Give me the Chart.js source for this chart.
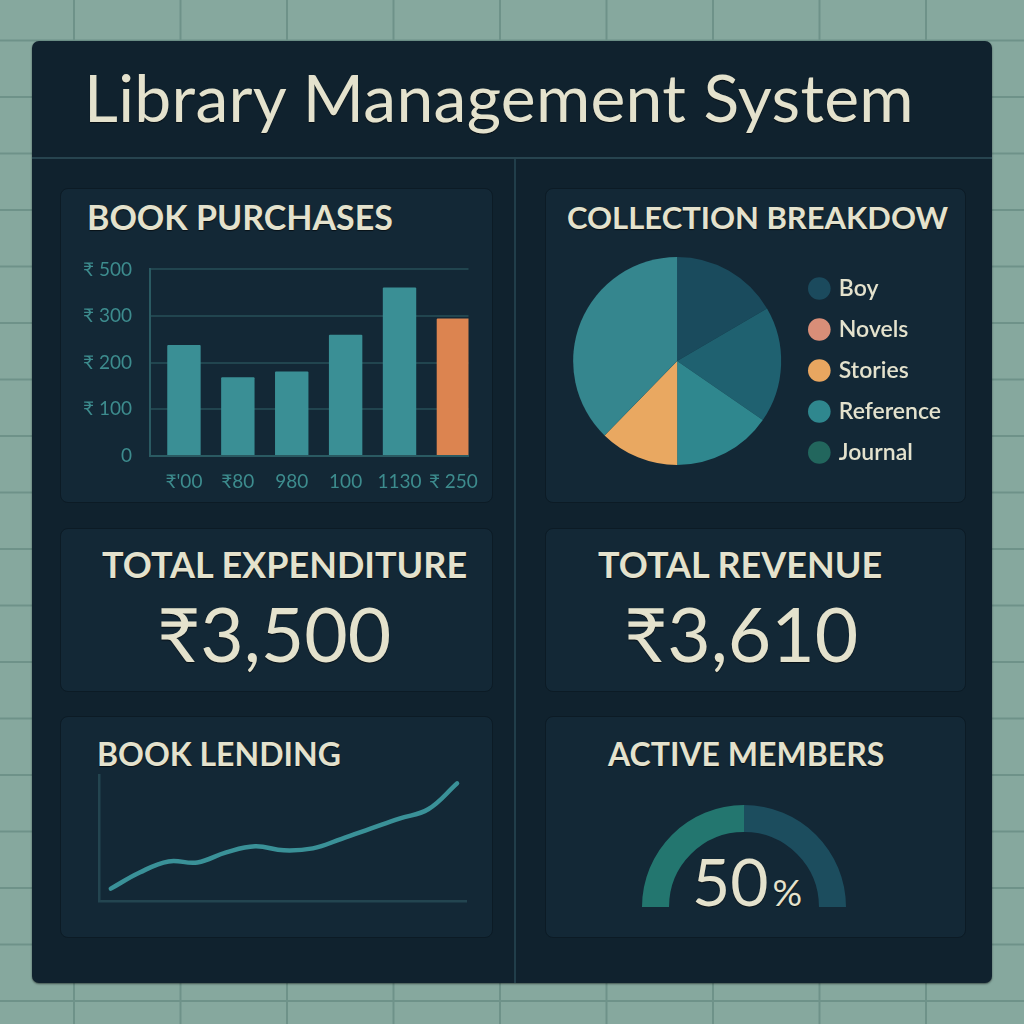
<!DOCTYPE html>
<html>
<head>
<meta charset="utf-8">
<title>Library Management System</title>
<script src="https://cdn.jsdelivr.net/npm/chart.js@4.4.1/dist/chart.umd.min.js"></script>
<style>
    html, body {
        margin: 0;
        padding: 0;
        width: 1024px;
        height: 1024px;
        overflow: hidden;
    }
    body {
        position: relative;
        background-color: #86a89e;
        background-image:
            linear-gradient(to right, #6e9289 1.5px, transparent 1.5px),
            linear-gradient(to bottom, #6e9289 1.5px, transparent 1.5px);
        background-size: 106.5px 100%, 100% 56.5px;
        background-position: 73px 0, 0 39.5px;
        font-family: Lato, "Noto Sans", sans-serif;
    }
    .panel {
        position: absolute;
        left: 32px;
        top: 41px;
        width: 960px;
        height: 942px;
        background: #10222e;
        border-radius: 7px;
        box-shadow: 0 1px 2px rgba(0, 0, 0, 0.5);
    }
    .header-line {
        position: absolute;
        left: 32px;
        top: 157px;
        width: 960px;
        height: 2px;
        background: #27444f;
    }
    .split-line {
        position: absolute;
        left: 514px;
        top: 159px;
        width: 1.5px;
        height: 824px;
        background: #213e4a;
    }
    .card {
        position: absolute;
        background: #132836;
        border: 1px solid #0c1b25;
        border-radius: 8px;
        box-sizing: border-box;
    }
    .txt {
        position: absolute;
        line-height: 1;
        color: #e4e2cd;
        white-space: nowrap;
        text-shadow: 0 1px 1px rgba(0, 0, 0, 0.6);
    }
    .title {
        font-size: 66px;
        font-weight: 400;
        letter-spacing: 0.3px;
    }
    .card-title {
        font-size: 32px;
        font-weight: 700;
    }
    .big-title {
        font-size: 36px;
        font-weight: 700;
    }
    .amount {
        font-size: 75px;
        font-weight: 400;
    }
    canvas {
        position: absolute;
    }
</style>
</head>
<body>
<div class="panel"></div>
<div class="header-line"></div>
<div class="split-line"></div>

<div class="card" style="left:60px;top:188px;width:433px;height:315px;"></div>
<div class="card" style="left:545px;top:188px;width:421px;height:315px;"></div>
<div class="card" style="left:60px;top:528px;width:433px;height:164px;"></div>
<div class="card" style="left:545px;top:528px;width:421px;height:164px;"></div>
<div class="card" style="left:60px;top:716px;width:433px;height:222px;"></div>
<div class="card" style="left:545px;top:716px;width:421px;height:222px;"></div>

<div class="txt title" style="left:84px;top:64px;">Library Management System</div>
<div class="txt card-title" style="left:87px;top:200px;font-size:34px;">BOOK PURCHASES</div>
<div class="txt card-title" style="left:567px;top:202px;font-size:31px;">COLLECTION BREAKDOW</div>
<div class="txt big-title" style="left:102px;top:546px;">TOTAL EXPENDITURE</div>
<div class="txt big-title" style="left:598px;top:546px;">TOTAL REVENUE</div>
<div class="txt amount" id="expenditure" style="left:157px;top:596px;"></div>
<div class="txt amount" id="revenue" style="left:624px;top:596px;"></div>
<div class="txt card-title" style="left:97px;top:738px;">BOOK LENDING</div>
<div class="txt card-title" style="left:608px;top:738px;">ACTIVE MEMBERS</div>
<div class="txt" id="membersPct" style="left:692px;top:848px;"></div>

<canvas id="purchasesChart" style="left:60px;top:240px;" width="433" height="260"></canvas>
<canvas id="collectionChart" style="left:561px;top:240px;" width="390" height="242"></canvas>
<canvas id="lendingChart" style="left:60px;top:765px;" width="433" height="150"></canvas>
<canvas id="membersChart" style="left:642px;top:805px;" width="204" height="102"></canvas>

<script>
// Дані графіків
const purchaseLabels = ['₹\'00', '₹80', '980', '100', '1130', '₹ 250'];
const purchaseValues = [238, 169, 181, 260, 361, 295];
const purchaseTicks = ['0', '₹ 100', '₹ 200', '₹ 300', '₹ 500'];

const collectionSlices = ['Boy', 'Journal', 'Novels', 'Stories', 'Reference'];
const collectionShares = [16.6, 18.0, 15.4, 12.3, 37.7];
const collectionLegend = ['Boy', 'Novels', 'Stories', 'Reference', 'Journal'];

const lendingWeeks = ['W1', 'W2', 'W3', 'W4', 'W5', 'W6', 'W7', 'W8', 'W9', 'W10', 'W11', 'W12', 'W13'];
const lendingValues = [9.8, 22.6, 31.4, 30.6, 38.6, 43.4, 40.2, 41.8, 49.4, 57.4, 65.4, 72.8, 93.4];

const memberLabels = ['Active', 'Inactive'];
const memberValues = [50, 50];

const totalExpenditure = 3500;
const totalRevenue = 3610;

const tickColor = '#3d8c8e';
const gridColor = '#21454f';
const textFont = 'Lato, "Noto Sans", sans-serif';

// Підсумкові значення
function renderTotals() {
    document.getElementById('expenditure').textContent = '₹' + totalExpenditure.toLocaleString('en-IN');
    document.getElementById('revenue').textContent = '₹' + totalRevenue.toLocaleString('en-IN');
    const pct = Math.round(memberValues[0] / (memberValues[0] + memberValues[1]) * 100);
    document.getElementById('membersPct').innerHTML =
        '<span style="font-size:66px;font-weight:400">' + pct + '</span>' +
        '<span style="font-size:37px;font-weight:400;margin-left:4px">%</span>';
}

// Стовпчики закупівель
function renderPurchasesChart() {
    const ctx = document.getElementById('purchasesChart');
    new Chart(ctx, {
        type: 'bar',
        data: {
            datasets: [{
                data: purchaseValues.map((v, i) => ({ x: i, y: v })),
                backgroundColor: purchaseValues.map((v, i) => i === purchaseValues.length - 1 ? '#dc8450' : '#3a8f95'),
                borderWidth: 0,
                borderRadius: 1,
                barPercentage: 0.62,
                categoryPercentage: 1
            }]
        },
        options: {
            responsive: false,
            animation: false,
            layout: { padding: { top: 26, right: 24, left: 0, bottom: 0 } },
            plugins: { legend: { display: false }, tooltip: { enabled: false } },
            scales: {
                x: {
                    type: 'linear',
                    offset: false,
                    min: -0.63,
                    max: 5.28,
                    afterBuildTicks: scale => {
                        scale.ticks = purchaseLabels.map((l, i) => ({ value: i }));
                    },
                    afterFit: scale => { scale.height = 44; },
                    ticks: {
                        color: tickColor,
                        font: { family: textFont, size: 19 },
                        padding: 14,
                        autoSkip: false,
                        maxRotation: 0,
                        callback: value => purchaseLabels[value]
                    },
                    grid: { display: false, drawTicks: false },
                    border: { color: '#2a5a62', width: 2 }
                },
                y: {
                    min: 0,
                    max: 400,
                    ticks: {
                        stepSize: 100,
                        color: tickColor,
                        font: { family: textFont, size: 19 },
                        padding: 18,
                        callback: value => purchaseTicks[value / 100]
                    },
                    afterFit: scale => { scale.width = 90; },
                    grid: { color: gridColor, lineWidth: 2, drawTicks: false },
                    border: { color: '#2a5a62', width: 2 }
                }
            }
        }
    });
}

// Кругова діаграма колекції
function renderCollectionChart() {
    const ctx = document.getElementById('collectionChart');
    const sliceColors = ['#1a4b5d', '#1f6170', '#2f878e', '#e9a861', '#35868e'];
    const legendColors = ['#1b4a5d', '#d98e78', '#e8a660', '#2f878e', '#22665d'];
    new Chart(ctx, {
        type: 'pie',
        data: {
            labels: collectionSlices,
            datasets: [{
                data: collectionShares,
                backgroundColor: sliceColors,
                borderWidth: 0,
                radius: 104
            }]
        },
        options: {
            responsive: false,
            animation: false,
            layout: { padding: 0 },
            plugins: {
                tooltip: { enabled: false },
                legend: {
                    position: 'right',
                    align: 'end',
                    labels: {
                        color: '#e4e2cd',
                        font: { family: textFont, size: 23, weight: '600' },
                        usePointStyle: true,
                        pointStyle: 'circle',
                        boxWidth: 16,
                        boxHeight: 16,
                        padding: 18,
                        generateLabels: () => collectionLegend.map((name, i) => ({
                            text: name,
                            fillStyle: legendColors[i],
                            strokeStyle: legendColors[i],
                            fontColor: '#e4e2cd',
                            lineWidth: 0,
                            pointStyle: 'circle',
                            hidden: false,
                            index: i
                        }))
                    }
                }
            }
        }
    });
}

// Лінія видачі книг
function renderLendingChart() {
    const ctx = document.getElementById('lendingChart');
    new Chart(ctx, {
        type: 'line',
        data: {
            datasets: [{
                label: 'Видача',
                data: lendingValues.map((v, i) => ({ x: i, y: v })),
                borderColor: '#3a9198',
                borderWidth: 4.5,
                borderCapStyle: 'round',
                pointRadius: 0,
                tension: 0.4,
                fill: false
            }]
        },
        options: {
            responsive: false,
            animation: false,
            layout: { padding: { left: 31, top: 10, right: 27, bottom: 6 } },
            plugins: { legend: { display: false }, tooltip: { enabled: false } },
            scales: {
                x: {
                    type: 'linear',
                    min: -0.41,
                    max: lendingWeeks.length - 1 + 0.31,
                    ticks: { display: false },
                    grid: { display: false },
                    border: { color: '#234550', width: 2.5 }
                },
                y: {
                    min: 0,
                    max: 100,
                    ticks: { display: false },
                    grid: { display: false },
                    border: { color: '#234550', width: 2.5 }
                }
            }
        }
    });
}

// Напівкругова шкала активних читачів
function renderMembersChart() {
    const ctx = document.getElementById('membersChart');
    new Chart(ctx, {
        type: 'doughnut',
        data: {
            labels: memberLabels,
            datasets: [{
                data: memberValues,
                backgroundColor: ['#23766f', '#1c4d5e'],
                borderWidth: 0
            }]
        },
        options: {
            responsive: false,
            animation: false,
            rotation: -90,
            circumference: 180,
            cutout: '73.5%',
            layout: { padding: 0 },
            plugins: { legend: { display: false }, tooltip: { enabled: false } }
        }
    });
}

renderTotals();
renderPurchasesChart();
renderCollectionChart();
renderLendingChart();
renderMembersChart();
</script>
</body>
</html>
